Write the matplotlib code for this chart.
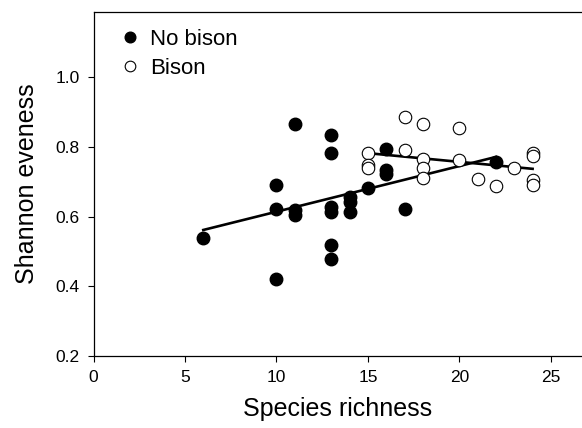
import numpy as np
import matplotlib.pyplot as plt

plt.rcParams['font.family'] = ['Liberation Sans', 'DejaVu Sans']

# sites without bison
nobison_x = [6, 10, 10, 10, 11, 11, 11, 13, 13, 13, 13, 13, 13,
             14, 14, 14, 15, 16, 16, 16, 17, 22]
nobison_y = [0.540, 0.691, 0.622, 0.420, 0.866, 0.619, 0.605, 0.834, 0.782,
             0.628, 0.614, 0.518, 0.478, 0.657, 0.643, 0.612, 0.681, 0.793,
             0.733, 0.722, 0.623, 0.756]

# sites with bison
bison_x = [15, 15, 15, 17, 17, 18, 18, 18, 18, 20, 20, 21, 22, 23, 24, 24, 24, 24]
bison_y = [0.781, 0.748, 0.739, 0.887, 0.791, 0.866, 0.765, 0.739, 0.712,
           0.855, 0.762, 0.709, 0.688, 0.740, 0.782, 0.775, 0.705, 0.691]

# regression lines: intercept, slope, x range
nobison_fit = (0.483, 0.0131, (6, 22))
bison_fit = (0.857, -0.0050, (15, 24))

fig = plt.figure(figsize=(5.82, 4.28), dpi=100)
ax = fig.add_axes([0.1607, 0.1682, 0.8393, 0.8038])

for b0, b1, (x0, x1) in (nobison_fit, bison_fit):
    xx = np.array([x0, x1])
    ax.plot(xx, b0 + b1 * xx, color='black', linewidth=1.9, zorder=2)

ax.plot(nobison_x, nobison_y, 'o', markersize=9, color='black',
        markeredgecolor='black', label='No bison', zorder=3)
ax.plot(bison_x, bison_y, 'o', markersize=9, markerfacecolor='white',
        markeredgecolor='black', markeredgewidth=0.8, label='Bison', zorder=3)

ax.set_xlim(0, 26.7)
ax.set_ylim(0.2, 1.187)
ax.set_xticks([0, 5, 10, 15, 20, 25])
ax.set_yticks([0.2, 0.4, 0.6, 0.8, 1.0])
ax.set_yticklabels(['0.2', '0.4', '0.6', '0.8', '1.0'])
ax.tick_params(direction='out', length=4, width=0.8, labelsize=12.5, pad=6)
ax.spines['right'].set_visible(False)
for s in ('left', 'bottom', 'top'):
    ax.spines[s].set_linewidth(0.9)

ax.set_xlabel('Species richness', fontsize=18, labelpad=9)
ax.set_ylabel('Shannon eveness', fontsize=18, labelpad=12)

ax.legend(loc='upper left', bbox_to_anchor=(0.02, 0.99), frameon=False,
          fontsize=16, handletextpad=0.3, borderaxespad=0.2, labelspacing=0.35,
          markerscale=0.85, handlelength=1.2)

fig.savefig('out.png', dpi=100)
